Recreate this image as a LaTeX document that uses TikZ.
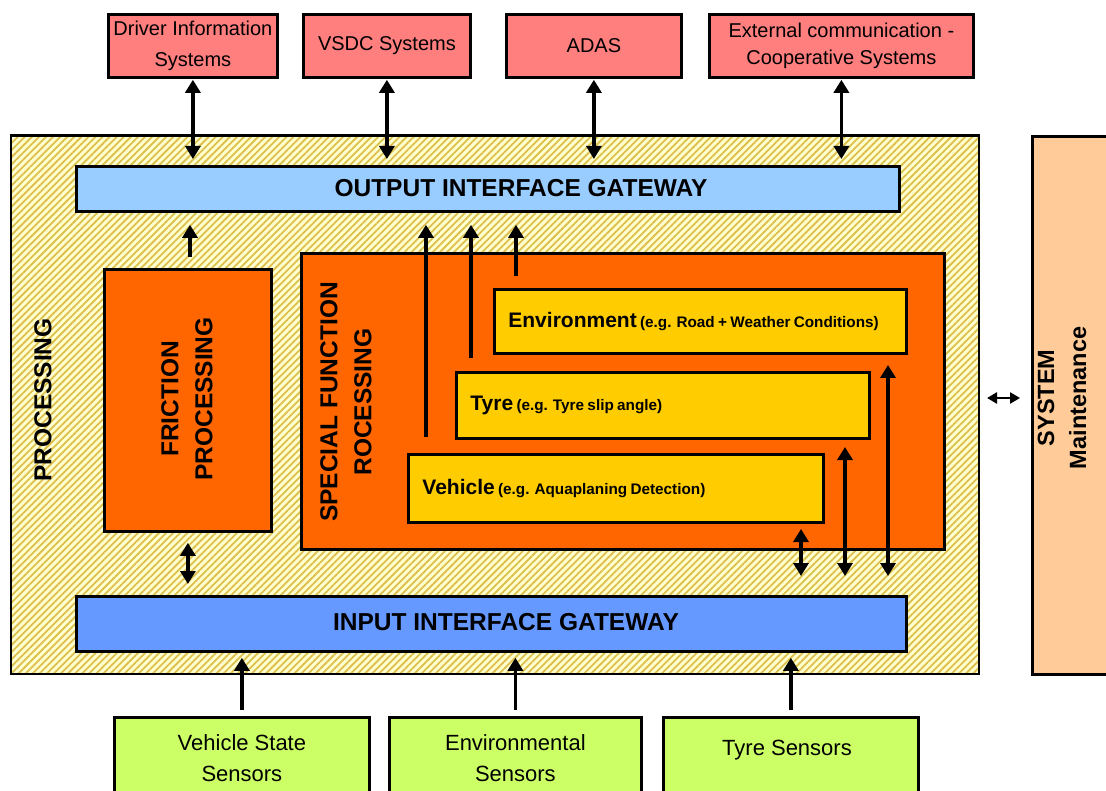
\documentclass[tikz,border=0pt]{standalone}
\usepackage{fontspec}
\setmainfont{Liberation Sans}
\usetikzlibrary{arrows.meta,patterns.meta}

\definecolor{rosefill}{HTML}{FF7F7F}
\definecolor{outblue}{HTML}{99CCFF}
\definecolor{inblue}{HTML}{6699FF}
\definecolor{procorange}{HTML}{FF6600}
\definecolor{subyellow}{HTML}{FFCC00}
\definecolor{sensorgreen}{HTML}{CCFF66}
\definecolor{maintpeach}{HTML}{FFCC99}
\definecolor{hatchbg}{HTML}{FFFFD0}
\definecolor{hatchline}{HTML}{DDBF4C}

\newcommand{\topfont}{\fontsize{20}{31}\selectfont}
\newcommand{\capsfont}{\fontsize{24.5}{34}\selectfont\bfseries}
\newcommand{\subfont}{\fontsize{21}{24}\selectfont\bfseries}
\newcommand{\notefont}{\fontsize{15.3}{18}\selectfont\bfseries}
\newcommand{\sensorfont}{\fontsize{22}{31}\selectfont}

\begin{document}
\begin{tikzpicture}[x=1pt,y=-1pt,
  box/.style={draw=black, line width=2.8pt, anchor=north west, inner sep=0pt},
  extsys/.style={box, fill=rosefill, font=\topfont, align=center},
  subbox/.style={box, fill=subyellow, align=left, inner xsep=14pt},
  sensor/.style={box, fill=sensorgreen, font=\sensorfont, align=center},
  caplabel/.style={font=\capsfont, align=center, inner sep=0pt},
  arr/.style={line width=3.7pt, -{Triangle[length=13pt,width=15pt]}},
  darr/.style={line width=3.7pt, {Triangle[length=13pt,width=15pt]}-{Triangle[length=13pt,width=15pt]}},
  sarr/.style={line width=2.8pt, {Triangle[length=10pt,width=11pt]}-{Triangle[length=10pt,width=11pt]}}
]
\useasboundingbox (0,0) rectangle (1106,791);
\clip (0,0) rectangle (1106,791);

% external systems fed by the output gateway
\node[extsys, minimum width=169pt, minimum height=63pt] (drv) at (107,13) {Driver Information\\Systems};
\node[extsys, minimum width=167pt, minimum height=63pt] (vsdc) at (302,13) {VSDC Systems};
\node[extsys, minimum width=175pt, minimum height=63pt] (adas) at (505,13) {ADAS};
\node[extsys, minimum width=264pt, minimum height=63pt, font=\fontsize{20}{27}\selectfont] (ext) at (708,13) {External communication -\\Cooperative Systems};

% hatched processing frame
\node[box, minimum width=968pt, minimum height=538pt, preaction={fill=hatchbg},
      pattern={Lines[angle=45,distance=5pt,line width=1.8pt]}, pattern color=hatchline] (proc) at (10,135) {};
\node[caplabel, rotate=90] (proclbl) at (43,400) {PROCESSING};

% gateways
\node[box, fill=outblue, minimum width=823pt, minimum height=45pt] (outg) at (75,165) {};
\node[caplabel] (outglbl) at (521,188) {OUTPUT INTERFACE GATEWAY};
\node[box, fill=inblue, minimum width=830pt, minimum height=55pt] (inp) at (75,595) {};
\node[caplabel] (inplbl) at (506,622) {INPUT INTERFACE GATEWAY};

% friction processing
\node[box, fill=procorange, minimum width=167pt, minimum height=262pt] (fric) at (103,268) {};
\node[caplabel, rotate=90] (friclbl) at (187,399) {FRICTION\\PROCESSING};

% special function processing and its sub-functions
\node[box, fill=procorange, minimum width=643pt, minimum height=296pt] (spec) at (300,252) {};
\node[caplabel, rotate=90] (speclbl) at (346,402) {SPECIAL FUNCTION\\ROCESSING};

\node[subbox, text width=384pt, minimum height=64pt] (env) at (493,288)
  {{\subfont Environment} {\notefont(e.g. Road + Weather Conditions)}};
\node[subbox, text width=385pt, minimum height=66pt] (tyre) at (455,371)
  {{\subfont Tyre} {\notefont(e.g. Tyre slip angle)}};
\node[subbox, text width=387pt, minimum height=68pt] (veh) at (407,453)
  {{\subfont Vehicle} {\notefont(e.g. Aquaplaning Detection)}};

% sensors
\node[sensor, minimum width=255pt, minimum height=82pt] (vss) at (113,716) {Vehicle State\\Sensors};
\node[sensor, minimum width=252pt, minimum height=82pt] (envs) at (388,716) {Environmental\\Sensors};
\node[sensor, minimum width=255pt, minimum height=82pt] (tyrs) at (662,716) {};
\node[font=\sensorfont, inner sep=0pt] (tyrslbl) at (787,750) {Tyre Sensors};

% system maintenance
\node[box, fill=maintpeach, minimum width=90pt, minimum height=538pt] (sys) at (1031,135) {};
\node[caplabel, rotate=90, font=\fontsize{23.5}{32}\selectfont\bfseries] (syslbl) at (1062,398) {SYSTEM\\Maintenance};

% free ends of connectors
\coordinate (fup) at (190,257);
\coordinate (s1) at (426,437);
\coordinate (s2) at (471,358);
\coordinate (s3) at (516,276);
\coordinate (v1) at (801,529);
\coordinate (t1) at (845,447);
\coordinate (e1) at (888,365);
\coordinate (mnt) at (978,398);

% output gateway <-> external systems
\foreach \n in {drv,vsdc,adas,ext}
  \draw[darr, shorten <=1pt, shorten >=6pt] (\n.south) -- (\n.south |- outg.north);

% processing -> output gateway
\draw[arr, shorten >=12pt] (fup) -- (fup |- outg.south);
\draw[arr, shorten >=12pt] (s1) -- (s1 |- outg.south);
\draw[arr, shorten >=12pt] (s2) -- (s2 |- outg.south);
\draw[arr, shorten >=12pt] (s3) -- (s3 |- outg.south);

% input gateway <-> processing
\draw[darr, shorten <=10pt, shorten >=11pt] (fric.south) -- (fric.south |- inp.north);
\draw[darr, shorten >=19pt] (v1) -- (v1 |- inp.north);
\draw[darr, shorten >=19pt] (t1) -- (t1 |- inp.north);
\draw[darr, shorten >=19pt] (e1) -- (e1 |- inp.north);

% sensors -> input gateway
\foreach \n in {vss,envs,tyrs}
  \draw[arr, shorten <=6pt, shorten >=5pt] (\n.north) -- (\n.north |- inp.south);

% processing <-> maintenance
\draw[sarr, shorten <=9pt, shorten >=11pt] (mnt) -- (mnt -| sys.west);
\end{tikzpicture}
\end{document}
